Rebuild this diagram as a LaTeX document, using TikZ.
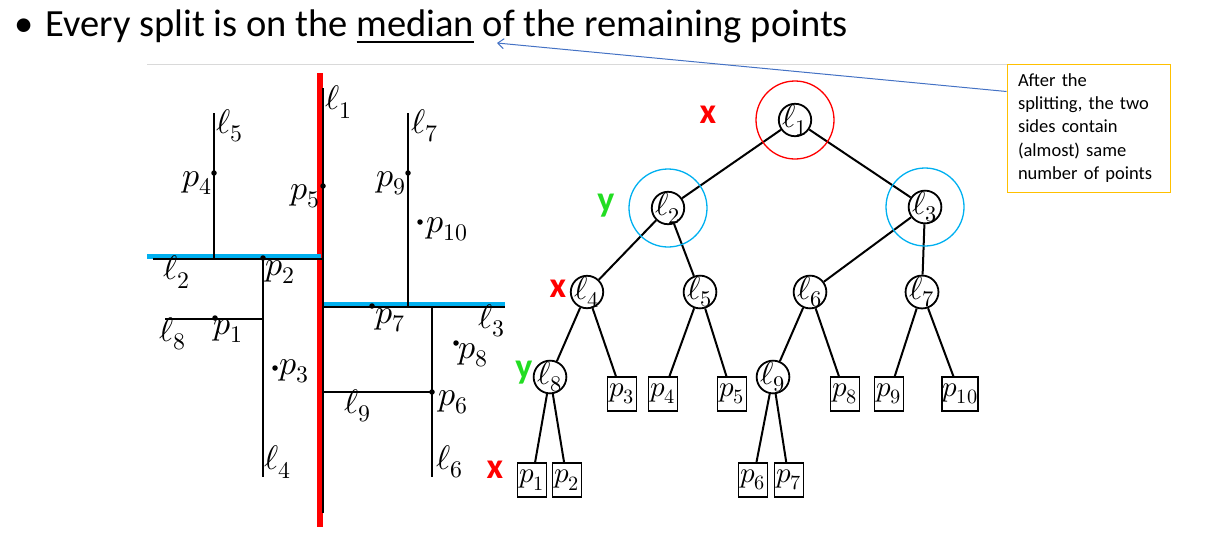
\documentclass[tikz,border=0pt]{standalone}
\usepackage{fontspec}
\usepackage{unicode-math}
\setmainfont{Carlito}
\setmathfont{Latin Modern Math}
\usetikzlibrary{arrows.meta}
\definecolor{splitred}{HTML}{FF0000}
\definecolor{splitblue}{HTML}{00B0F0}
\definecolor{notegold}{HTML}{FFC000}
\definecolor{arrowblue}{HTML}{4472C4}
\definecolor{ygreen}{HTML}{22DD22}
\begin{document}
\begin{tikzpicture}[x=1pt,y=-1pt,
  cut/.style={line width=2pt,black},
  pt/.style={circle,fill=black,inner sep=0pt,minimum size=5.5pt},
  lab/.style={font=\fontsize{34}{36}\selectfont,inner sep=0pt},
  lnode/.style={circle,draw,line width=1.8pt,minimum size=30pt,inner sep=-2.5pt,font=\fontsize{32}{34}\selectfont},
  pnode/.style={draw,line width=1.8pt,minimum height=34pt,minimum width=29pt,inner xsep=0pt,inner ysep=0pt,font=\fontsize{29}{31}\selectfont},
  edge/.style={line width=2pt},
  ring/.style={draw,circle,line width=1.3pt,minimum size=78pt,inner sep=0pt},
  axis/.style={font=\fontsize{36}{38}\selectfont\bfseries,inner sep=0pt},
  callout/.style={draw=notegold,line width=1pt,minimum width=163pt,minimum height=128pt,text width=141pt,align=left,inner sep=0pt,font=\fontsize{18.5}{23.3}\selectfont}
]
\useasboundingbox (0,0) rectangle (1206,552);

% heading
\node[anchor=west,inner sep=0pt,font=\fontsize{38.5}{42}\selectfont] (title) at (14,27)
  {\textbullet\hspace{12pt}Every split is on the \underline{median} of the remaining points};
\draw[black!15,line width=1pt] (147,64) -- (1065,64);

% ---------- subdivision of the plane ----------
\draw[splitred,line width=6pt] (320,73) -- (320,527);
\draw[splitblue,line width=5pt] (147,256) -- (321,256);
\draw[splitblue,line width=5pt] (322,304) -- (505,304);
\draw[cut] (323,88) -- (323,513);
\draw[cut] (153,259) -- (323,259);
\draw[cut] (323,307) -- (505,307);
\draw[cut] (214,113) -- (214,259);
\draw[cut] (408,113) -- (408,307);
\draw[cut] (263,259) -- (263,477);
\draw[cut] (432,307) -- (432,477);
\draw[cut] (165,319) -- (263,319);
\draw[cut] (323,392) -- (432,392);

\node[pt] (d1) at (215,318) {};
\node[pt] (d2) at (263,258) {};
\node[pt] (d3) at (275,368) {};
\node[pt] (d4) at (214,173) {};
\node[pt] (d5) at (323,186) {};
\node[pt] (d6) at (432,392) {};
\node[pt] (d7) at (372,306) {};
\node[pt] (d8) at (456,343) {};
\node[pt] (d9) at (408,173) {};
\node[pt] (d10) at (420,222) {};

\node[lab] (t1) at (339,102) {$\ell_1$};
\node[lab] (t2) at (177,272) {$\ell_2$};
\node[lab] (t3) at (492,321) {$\ell_3$};
\node[lab] (t4) at (278,462) {$\ell_4$};
\node[lab] (t5) at (230,126) {$\ell_5$};
\node[lab] (t6) at (450,462) {$\ell_6$};
\node[lab] (t7) at (425,126) {$\ell_7$};
\node[lab] (t8) at (173,334) {$\ell_8$};
\node[lab] (t9) at (358,406) {$\ell_9$};
\node[lab] (q1) at (228,331) {$p_1$};
\node[lab] (q2) at (280,272) {$p_2$};
\node[lab] (q3) at (294,371) {$p_3$};
\node[lab] (q4) at (197,183) {$p_4$};
\node[lab] (q5) at (305,196) {$p_5$};
\node[lab] (q6) at (453,402) {$p_6$};
\node[lab] (q7) at (390,320) {$p_7$};
\node[lab] (q8) at (473,355) {$p_8$};
\node[lab] (q9) at (391,183) {$p_9$};
\node[lab] (q10) at (447,229) {$p_{10}$};

% ---------- kd-tree ----------
\node[lnode] (l1) at (795,120) {$\ell_1$};
\node[lnode] (l2) at (668,208) {$\ell_2$};
\node[lnode] (l3) at (925,207) {$\ell_3$};
\node[lnode] (l4) at (587,292) {$\ell_4$};
\node[lnode] (l5) at (700,292) {$\ell_5$};
\node[lnode] (l6) at (810,292) {$\ell_6$};
\node[lnode] (l7) at (922,292) {$\ell_7$};
\node[lnode] (l8) at (550,377) {$\ell_8$};
\node[lnode] (l9) at (773,377) {$\ell_9$};
\node[pnode] (p3) at (622,394) {$p_3$};
\node[pnode] (p4) at (663,394) {$p_4$};
\node[pnode] (p5) at (732,394) {$p_5$};
\node[pnode] (p8) at (845,394) {$p_8$};
\node[pnode] (p9) at (889,394) {$p_9$};
\node[pnode] (p10) at (960,394) {$p_{10}$};
\node[pnode] (p1) at (532,480) {$p_1$};
\node[pnode] (p2) at (567,480) {$p_2$};
\node[pnode] (p6) at (753,480) {$p_6$};
\node[pnode] (p7) at (789,480) {$p_7$};

\foreach \a/\b in {l1/l2,l1/l3,l2/l4,l2/l5,l3/l6,l3/l7,l4/l8,l4/p3,l5/p4,l5/p5,
                   l6/l9,l6/p8,l7/p9,l7/p10,l8/p1,l8/p2,l9/p6,l9/p7}
  \draw[edge] (\a) -- (\b);

\node[ring,draw=splitred] (r1) at (l1) {};
\node[ring,draw=splitblue] (r2) at (l2) {};
\node[ring,draw=splitblue] (r3) at (l3) {};

\node[axis,text=splitred] (ax1) at (708,115) {x};
\node[axis,text=ygreen] (ay2) at (606,206) {y};
\node[axis,text=splitred] (ax3) at (558,289) {x};
\node[axis,text=ygreen] (ay4) at (524,373) {y};
\node[axis,text=splitred] (ax5) at (495,470) {x};

% ---------- note ----------
\node[callout] (note) at (1088.5,128)
  {After the\\splitting, the two\\sides contain\\(almost) same\\number of points};
\coordinate (tip) at (497,43);
\draw[arrowblue,line width=1pt,-{Straight Barb[length=6pt,width=10pt]}] ([yshift=-28pt]note.north west) -- (tip);
\end{tikzpicture}
\end{document}
